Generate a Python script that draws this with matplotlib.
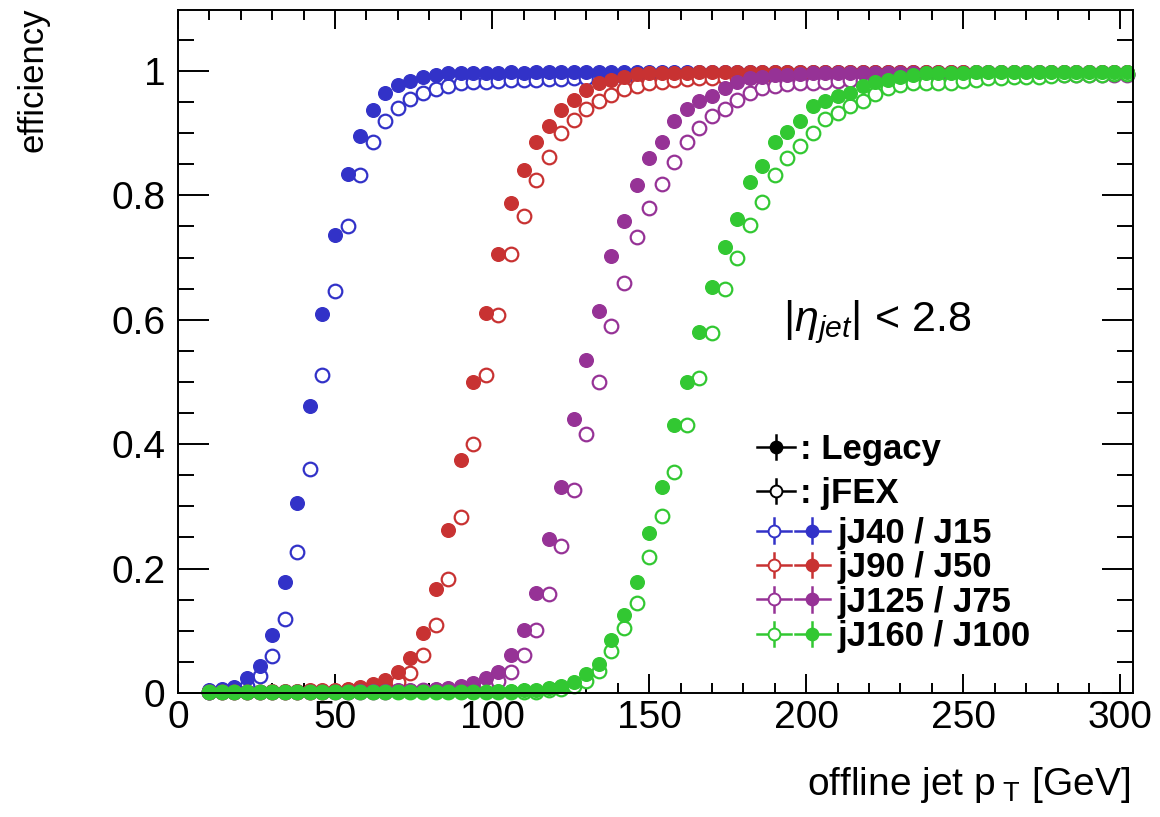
import numpy as np
import matplotlib
matplotlib.use("Agg")
import matplotlib.pyplot as plt
from matplotlib.ticker import MultipleLocator, FuncFormatter
from matplotlib.legend_handler import HandlerBase
from matplotlib.lines import Line2D

plt.rcParams['font.family'] = ['Liberation Sans', 'DejaVu Sans']
plt.rcParams['mathtext.fontset'] = 'custom'
plt.rcParams['mathtext.rm'] = 'Liberation Sans'
plt.rcParams['mathtext.it'] = 'Liberation Sans:italic'
plt.rcParams['mathtext.bf'] = 'Liberation Sans:bold'

# bin centres, 4 GeV bins
pt = np.arange(10, 303, 4)

# Legacy (filled)
j15 = [0.004, 0.006, 0.010, 0.024, 0.043, 0.093, 0.178, 0.306, 0.462, 0.609,
       0.737, 0.834, 0.896, 0.937, 0.964, 0.977, 0.984, 0.991, 0.994, 0.996,
       0.996, 0.997, 0.997, 0.997, 0.998, 0.997, 0.998, 0.998, 0.998, 0.998,
       0.998, 0.999, 0.998, 0.998, 0.999, 0.998, 0.999, 0.998, 0.999, 0.999,
       0.999, 0.998, 0.999, 0.999, 0.999, 0.999, 0.998, 0.999, 0.999, 0.999,
       0.999, 0.999, 0.999, 0.999, 0.999, 0.999, 0.999, 0.999, 0.999, 0.999,
       0.999, 0.999, 0.999, 0.999, 0.999, 0.999, 0.999, 0.999, 0.999, 0.999,
       0.999, 0.999, 0.999, 0.999]
j50 = [0.001, 0.001, 0.002, 0.002, 0.002, 0.003, 0.003, 0.003, 0.004, 0.004,
       0.005, 0.007, 0.010, 0.014, 0.021, 0.033, 0.056, 0.097, 0.167, 0.262,
       0.375, 0.500, 0.611, 0.706, 0.788, 0.841, 0.885, 0.912, 0.937, 0.954,
       0.969, 0.980, 0.986, 0.991, 0.995, 0.996, 0.996, 0.997, 0.997, 0.998,
       0.998, 0.998, 0.998, 0.998, 0.998, 0.998, 0.998, 0.998, 0.998, 0.998,
       0.998, 0.998, 0.998, 0.998, 0.998, 0.998, 0.998, 0.998, 0.998, 0.998,
       0.998, 0.998, 0.998, 0.998, 0.998, 0.998, 0.998, 0.998, 0.998, 0.998,
       0.998, 0.998, 0.998, 0.998]
j75 = [0.001, 0.001, 0.001, 0.001, 0.001, 0.001, 0.001, 0.001, 0.001, 0.001,
       0.002, 0.002, 0.003, 0.003, 0.003, 0.004, 0.004, 0.005, 0.006, 0.008,
       0.011, 0.016, 0.024, 0.034, 0.061, 0.102, 0.161, 0.247, 0.331, 0.440,
       0.535, 0.614, 0.703, 0.758, 0.816, 0.860, 0.885, 0.919, 0.938, 0.951,
       0.960, 0.973, 0.983, 0.988, 0.991, 0.993, 0.994, 0.995, 0.996, 0.996,
       0.997, 0.997, 0.997, 0.997, 0.997, 0.997, 0.997, 0.997, 0.997, 0.997,
       0.997, 0.997, 0.997, 0.997, 0.997, 0.997, 0.997, 0.997, 0.997, 0.997,
       0.997, 0.997, 0.997, 0.997]
j100 = [0.001, 0.001, 0.001, 0.001, 0.001, 0.001, 0.001, 0.001, 0.001, 0.001,
        0.001, 0.001, 0.001, 0.001, 0.001, 0.001, 0.001, 0.001, 0.001, 0.001,
        0.002, 0.002, 0.002, 0.003, 0.003, 0.004, 0.005, 0.008, 0.012, 0.018,
        0.031, 0.047, 0.085, 0.125, 0.178, 0.257, 0.331, 0.430, 0.500, 0.580,
        0.652, 0.717, 0.762, 0.822, 0.847, 0.886, 0.902, 0.920, 0.943, 0.951,
        0.960, 0.964, 0.975, 0.983, 0.986, 0.991, 0.994, 0.996, 0.996, 0.997,
        0.997, 0.998, 0.998, 0.998, 0.998, 0.998, 0.998, 0.998, 0.998, 0.998,
        0.998, 0.998, 0.998, 0.998]

# jFEX (open)
jj40 = [0.002, 0.003, 0.005, 0.012, 0.028, 0.059, 0.119, 0.226, 0.360, 0.511,
        0.646, 0.751, 0.832, 0.885, 0.920, 0.940, 0.955, 0.965, 0.971, 0.976,
        0.980, 0.982, 0.983, 0.984, 0.985, 0.986, 0.986, 0.987, 0.987, 0.988,
        0.988, 0.989, 0.989, 0.990, 0.990, 0.990, 0.991, 0.991, 0.991, 0.992,
        0.992, 0.992, 0.993, 0.993, 0.993, 0.993, 0.994, 0.994, 0.994, 0.994,
        0.995, 0.995, 0.995, 0.995, 0.995, 0.995, 0.995, 0.995, 0.995, 0.995,
        0.995, 0.995, 0.995, 0.995, 0.995, 0.995, 0.995, 0.995, 0.995, 0.995,
        0.995, 0.995, 0.995, 0.995]
jj90 = [0.001, 0.001, 0.001, 0.001, 0.001, 0.002, 0.002, 0.002, 0.002, 0.002,
        0.003, 0.004, 0.005, 0.007, 0.010, 0.018, 0.032, 0.061, 0.109, 0.184,
        0.283, 0.400, 0.511, 0.608, 0.706, 0.767, 0.825, 0.862, 0.900, 0.921,
        0.939, 0.952, 0.961, 0.971, 0.976, 0.980, 0.983, 0.986, 0.987, 0.988,
        0.988, 0.989, 0.989, 0.990, 0.990, 0.991, 0.991, 0.992, 0.992, 0.992,
        0.993, 0.993, 0.993, 0.993, 0.994, 0.994, 0.994, 0.994, 0.994, 0.994,
        0.995, 0.995, 0.995, 0.995, 0.995, 0.995, 0.995, 0.995, 0.995, 0.995,
        0.995, 0.995, 0.995, 0.995]
jj125 = [0.001, 0.001, 0.001, 0.001, 0.001, 0.001, 0.001, 0.001, 0.001, 0.001,
         0.001, 0.001, 0.002, 0.002, 0.002, 0.003, 0.003, 0.004, 0.004, 0.005,
         0.006, 0.008, 0.013, 0.020, 0.034, 0.061, 0.102, 0.159, 0.236, 0.326,
         0.416, 0.500, 0.590, 0.659, 0.733, 0.779, 0.819, 0.854, 0.885, 0.909,
         0.927, 0.939, 0.953, 0.964, 0.972, 0.975, 0.979, 0.980, 0.981, 0.983,
         0.984, 0.985, 0.986, 0.987, 0.988, 0.988, 0.989, 0.989, 0.990, 0.990,
         0.991, 0.991, 0.991, 0.992, 0.992, 0.992, 0.993, 0.993, 0.993, 0.993,
         0.994, 0.994, 0.994, 0.994]
jj160 = [0.001, 0.001, 0.001, 0.001, 0.001, 0.001, 0.001, 0.001, 0.001, 0.001,
         0.001, 0.001, 0.001, 0.001, 0.001, 0.001, 0.001, 0.001, 0.001, 0.001,
         0.001, 0.001, 0.001, 0.002, 0.002, 0.002, 0.002, 0.004, 0.007, 0.012,
         0.020, 0.036, 0.067, 0.104, 0.145, 0.218, 0.285, 0.355, 0.430, 0.507,
         0.578, 0.650, 0.700, 0.752, 0.790, 0.833, 0.860, 0.879, 0.900, 0.922,
         0.933, 0.943, 0.951, 0.963, 0.972, 0.977, 0.980, 0.981, 0.981, 0.980,
         0.984, 0.986, 0.988, 0.989, 0.990, 0.991, 0.991, 0.992, 0.993, 0.993,
         0.994, 0.994, 0.995, 0.995]

labels = ['jJ40 / J15', 'jJ90 / J50', 'jJ125 / J75', 'jJ160 / J100']
colors = ['#3232c8', '#c83232', '#963296', '#32c832']
legacy = [j15, j50, j75, j100]
jfex = [jj40, jj90, jj125, jj160]

fig = plt.figure(figsize=(11.6, 8.17), dpi=100)
ax = fig.add_axes([0.1534, 0.1518, 0.8233, 0.836])

ms = 9.8
for c, yl, yj in zip(colors, legacy, jfex):
    ax.plot(pt, yj, 'o', ms=ms, mfc='white', mec=c, mew=1.6, ls='none', clip_on=False)
    ax.plot(pt, yl, 'o', ms=ms, mfc=c, mec=c, mew=1.0, ls='none', clip_on=False)

ax.set_xlim(0, 304)
ax.set_ylim(0, 1.098)
ax.xaxis.set_major_locator(MultipleLocator(50))
ax.xaxis.set_minor_locator(MultipleLocator(10))
ax.yaxis.set_major_locator(MultipleLocator(0.2))
ax.yaxis.set_minor_locator(MultipleLocator(0.05))
ax.yaxis.set_major_formatter(FuncFormatter(lambda v, p: '%g' % round(v, 2)))
ax.tick_params(which='both', direction='in', top=True, right=True, width=1.4,
               labelsize=28)
ax.tick_params(axis='x', which='major', length=13.7, pad=5)
ax.tick_params(axis='x', which='minor', length=7.2)
ax.tick_params(axis='y', which='major', length=22, pad=9)
ax.tick_params(axis='y', which='minor', length=11.5)
for s in ax.spines.values():
    s.set_linewidth(1.4)

ax.set_xlabel(r'offline jet p$_{\ \mathrm{T}}$ [GeV]', loc='right', fontsize=28)
ax.xaxis.set_label_coords(0.997, -0.106)
ax.set_ylabel('efficiency', loc='top', fontsize=25)
ax.yaxis.set_label_coords(-0.135, 1.003)

ax.text(0.634, 0.543, r'$|\eta_{jet}|$ < 2.8', transform=ax.transAxes,
        fontsize=31, va='center', ha='left')


class Sym:
    def __init__(self, styles):
        self.styles = styles


class SymHandler(HandlerBase):
    def create_artists(self, legend, orig_handle, xdescent, ydescent, width,
                       height, fontsize, trans):
        arts = []
        n = len(orig_handle.styles)
        gap = 0.1 * width / n if n > 1 else 0
        seg = (width - gap * (n - 1)) / n
        ym = -ydescent + height / 2
        for i, (c, filled) in enumerate(orig_handle.styles):
            x0 = -xdescent + i * (seg + gap)
            xm = x0 + seg / 2
            arts.append(Line2D([x0, x0 + seg], [ym, ym], color=c, lw=1.8, transform=trans))
            arts.append(Line2D([xm, xm], [ym - 0.5 * height, ym + 0.5 * height],
                               color=c, lw=1.8, transform=trans))
            arts.append(Line2D([xm], [ym], marker='o', ms=8.5,
                               mfc=c if filled else 'white', mec=c, mew=1.4,
                               transform=trans))
        return arts


hmap = {Sym: SymHandler()}
prop = {'weight': 'bold', 'size': 25}
leg1 = ax.legend([Sym([('black', True)]), Sym([('black', False)])],
                 [': Legacy', ': jFEX'], loc='upper left',
                 bbox_to_anchor=(0.606, 0.380), frameon=False, prop=prop,
                 handler_map=hmap, handlelength=1.1, handletextpad=0.15,
                 labelspacing=0.3, borderpad=0, borderaxespad=0)
ax.add_artist(leg1)
ax.legend([Sym([(c, False), (c, True)]) for c in colors], labels,
          loc='upper left', bbox_to_anchor=(0.606, 0.258), frameon=False,
          prop=prop, handler_map=hmap, handlelength=2.1, handletextpad=0.23,
          labelspacing=0.04, borderpad=0, borderaxespad=0)

fig.savefig('out.png', dpi=100)
